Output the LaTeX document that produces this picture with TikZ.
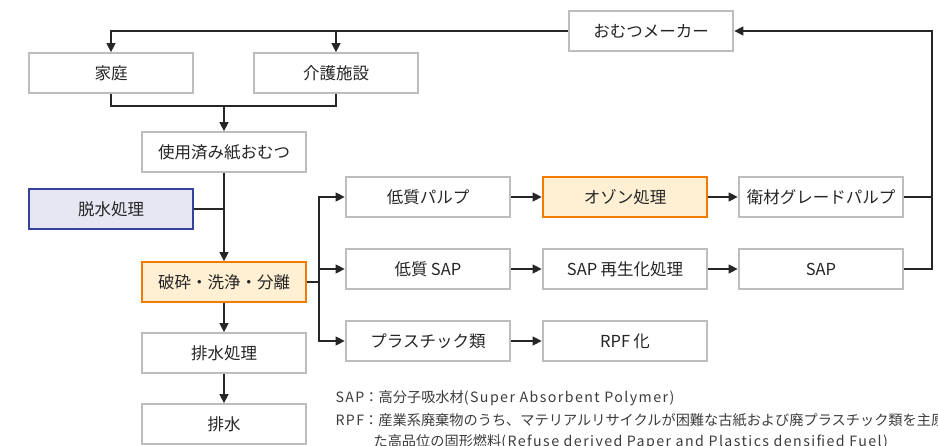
\documentclass[tikz,border=0pt]{standalone}
\usepackage{fontspec}
\setmainfont{Noto Sans CJK JP}
\usetikzlibrary{arrows.meta}
\definecolor{boxgray}{HTML}{BDBDBD}
\definecolor{hotline}{HTML}{F07D00}
\definecolor{hotfill}{HTML}{FFF0D4}
\definecolor{coolline}{HTML}{34449C}
\definecolor{coolfill}{HTML}{E6E7F3}
\definecolor{ink}{HTML}{262626}
\newcommand\eng[1]{{\addfontfeatures{LetterSpace=10}#1}}

\begin{document}
\begin{tikzpicture}[x=1pt,y=-1pt,>={Triangle[length=9pt,width=9pt]},
    color=ink,line width=1.1pt,
    box/.style={draw=boxgray,line width=2.2pt,fill=white,text=ink,
      minimum width=164.5pt,minimum height=39.5pt,inner sep=0pt,
      font=\fontsize{16.5}{20}\selectfont},
    hot/.style={box,draw=hotline,fill=hotfill},
    cool/.style={box,draw=coolline,fill=coolfill},
    note/.style={anchor=west,inner sep=0pt,text=ink!90,
      font=\fontsize{14.2}{17}\selectfont}]
    \useasboundingbox (0,0) rectangle (938,446);
    \clip (0,0) rectangle (938,446);
    \node[box] (M) at (651,31) {おむつメーカー};
    \node[box] (H) at (111,73) {家庭}; \node[box] (K) at (336,73)
    {介護施設}; \node[box] (U) at (224,152) {使用済み紙おむつ};
    \node[cool] (D) at (111,209) {脱水処理};
    \node[hot] (S) at (224,282) {破砕・洗浄・分離};
    \node[box] (W) at (224,353) {排水処理}; \node[box] (E) at (224,424)
    {排水};
    \node[box] (P1) at (428,197) {低質パルプ}; \node[hot] (P2) at (625,197)
    {オゾン処理}; \node[box] (P3) at (821,197) {衛材グレードパルプ};
    \node[box] (A1) at (428,269) {低質\hspace{.2em}SAP}; \node[box] (A2) at (625,269)
    {SAP\hspace{.2em}再生化処理}; \node[box] (A3) at (821,269) {SAP};
    \node[box] (R1) at (428,341) {プラスチック類}; \node[box] (R2) at (625,341)
    {RPF\hspace{.2em}化};
    \coordinate (J) at (224,106); \coordinate (B) at (319,282);
    \coordinate (F) at (932,31);
    \draw[->] (M.west) -| (H.north); \draw[->] (K.north |- M.west) -- (K.north);
    \draw (H.south) |- (J) -| (K.south); \draw[->] (J) -- (U.north);
    \draw[->] (U) -- (S); \draw (D.east) -- (D.east -| U.south);
    \draw[->] (S) -- (W); \draw[->] (W) -- (E);
    \draw (S.east) -- (B); \draw[->] (B) |- (P1.west);
    \draw[->] (B |- A1) -- (A1.west); \draw[->] (B) |- (R1.west);
    \draw[->] (P1) -- (P2); \draw[->] (P2) -- (P3);
    \draw[->] (A1) -- (A2); \draw[->] (A2) -- (A3); \draw[->] (R1) -- (R2);
    \draw[->] (A3.east) -| (F) -- (M.east); \draw (P3.east) -- (P3.east -| F);
    \node[note] (N1) at (335,398) {\eng{SAP}：高分子吸水材\eng{(Super Absorbent Polymer)}};
    \node[note] (N2) at (335,420)
    {\eng{RPF}：産業系廃棄物のうち、マテリアルリサイクルが困難な古紙および廃プラスチック類を主原};
    \node[note] (N3) at (373,442)
    {た高品位の固形燃料\eng{(Refuse derived Paper and Plastics densified Fuel)}};
  \end{tikzpicture}
\end{document}
